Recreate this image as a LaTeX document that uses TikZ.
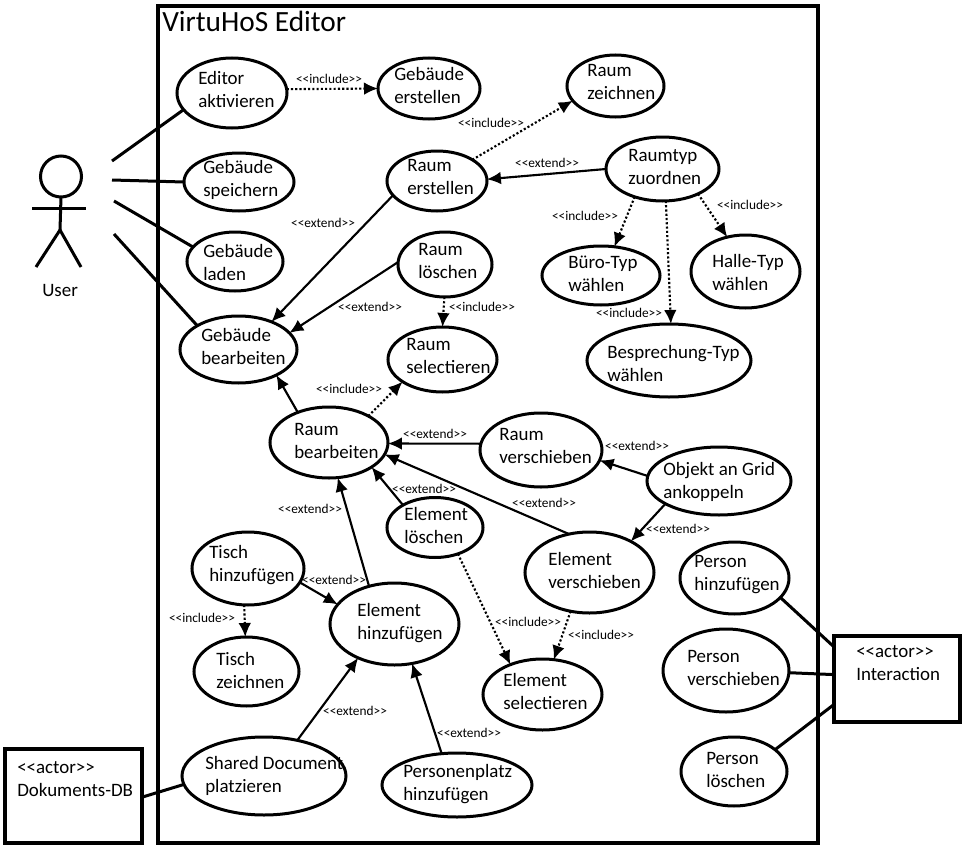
\documentclass[tikz,border=0pt]{standalone}
\usepackage{fontspec}
\newfontfamily\carl{Carlito}
\usetikzlibrary{shapes.geometric,arrows.meta}
\tikzset{
  ucase/.style={draw,ellipse,line width=2.25pt,inner sep=0pt,outer sep=0pt},
  uctext/.style={anchor=west,align=left,inner sep=0pt,yshift=0.75pt,font=\carl\fontsize{14.2pt}{17.25pt}\selectfont},
  steplabel/.style={inner sep=0pt,font=\carl\fontsize{10pt}{12pt}\selectfont},
  assoc/.style={line width=2.25pt},
  ext/.style={line width=1.6pt,-{Latex[length=10.5pt,width=9.5pt]}},
  inc/.style={line width=1.6pt,dash pattern=on 1.6pt off 1.6pt,-{Latex[length=10.5pt,width=9.5pt]}},
  actorbox/.style={draw,line width=2.6pt,inner sep=0pt,outer sep=0pt},
}
\newcommand{\uc}[8]{%
  \node[ucase,minimum width=#4*0.75pt,minimum height=#5*0.75pt] (#1) at (#2,#3) {};
  \node[uctext] (#1t) at (#6,#7) {#8};
}
\newcommand{\lb}[4]{\node[steplabel] (#1) at (#2,#3) {#4};}
\begin{document}
\begin{tikzpicture}[x=0.75pt,y=-0.75pt]
\useasboundingbox (0,0) rectangle (972,853);
% frame
\node[actorbox,minimum width=660*0.75pt,minimum height=837*0.75pt] (frame) at (488,424.5) {};
\node[uctext,font=\carl\fontsize{22pt}{26pt}\selectfont] (title) at (162,22) {VirtuHoS Editor};
% use cases
\uc{ea}{232}{93}{110}{70}{198}{90.5}{Editor\\aktivieren}
\uc{ge}{429}{88.5}{102}{61}{394}{86.5}{Gebäude\\erstellen}
\uc{rz}{615.5}{86}{97}{62}{587}{82.5}{Raum\\zeichnen}
\uc{gs}{239}{182}{110}{58}{203}{180.5}{Gebäude\\speichern}
\uc{gl}{235}{261.5}{96}{59}{203}{263}{Gebäude\\laden}
\uc{re}{437}{181}{100}{60}{407}{177.5}{Raum\\erstellen}
\uc{rt}{662.5}{169}{113}{64}{628}{167.5}{Raumtyp\\zuordnen}
\uc{rl}{445}{264.5}{94}{65}{418}{261.5}{Raum\\löschen}
\uc{bt}{601}{275.5}{118}{59}{568}{274.5}{Büro-Typ\\wählen}
\uc{ht}{745.5}{271.5}{109}{73}{712}{273.5}{Halle-Typ\\wählen}
\uc{gb}{238.5}{349.5}{117}{67}{201}{347.5}{Gebäude\\bearbeiten}
\uc{rs}{442.5}{359.5}{109}{65}{406}{356.5}{Raum\\selectieren}
\uc{bs}{669}{360.5}{164}{73}{607}{364}{Besprechung-Typ\\wählen}
\uc{rb}{329}{442.5}{118}{71}{294}{441.5}{Raum\\bearbeiten}
\uc{rv}{541}{450}{122}{74}{499}{446.5}{Raum\\verschieben}
\uc{og}{719}{481}{144}{68}{663}{482.5}{Objekt an Grid\\ankoppeln}
\uc{el}{435}{527.5}{96}{60}{404}{526.5}{Element\\löschen}
\uc{ev}{589.5}{572.5}{129}{81}{548}{571.5}{Element\\verschieben}
\uc{ph}{734.5}{578}{109}{72}{694}{575.5}{Person\\hinzufügen}
\uc{th}{248}{568.5}{112}{73}{209}{566.5}{Tisch\\hinzufügen}
\uc{eh}{394.5}{624}{129}{82}{357}{624.5}{Element\\hinzufügen}
\uc{tz}{246.5}{671.5}{105}{69}{216}{671.5}{Tisch\\zeichnen}
\uc{pv}{726}{670.5}{126}{83}{687}{669}{Person\\verschieben}
\uc{es}{542.5}{694.5}{119}{71}{503}{692.5}{Element\\selectieren}
\uc{pl}{734}{771.5}{106}{69}{706}{770.5}{Person\\löschen}
\uc{sd}{264}{776}{164}{78}{205}{776.5}{Shared Document\\platzieren}
\uc{pp}{457}{785}{150}{64}{403}{785.5}{Personenplatz\\hinzufügen}
% actor boxes
\node[actorbox,minimum width=126*0.75pt,minimum height=86*0.75pt] (int) at (897,679) {};
\node[uctext] (intt) at (856,664.5) {<<actor>>\\Interaction};
\node[actorbox,minimum width=137*0.75pt,minimum height=94*0.75pt] (db) at (73.5,796) {};
\node[uctext] (dbt) at (17,780.5) {<<actor>>\\Dokuments-DB};
% stick figure
\node[draw,circle,line width=2.25pt,minimum size=41*0.75pt,inner sep=0pt,outer sep=0pt] (head) at (61,176.5) {};
\coordinate (hip) at (60,230);
\coordinate (arml) at (32,208);
\coordinate (armr) at (86,208);
\coordinate (legl) at (36,267);
\coordinate (legr) at (81,267);
\draw[assoc] (head.south) -- (hip);
\draw[assoc] (arml) -- (armr);
\draw[assoc] (legl) -- (hip) -- (legr);
\node[uctext] (usr) at (42,291) {User};
\coordinate (u1) at (112,161);
\coordinate (u2) at (112,180);
\coordinate (u3) at (114,201);
\coordinate (u4) at (114,234);
\draw[assoc] (u1) -- (ea.199);
\draw[assoc] (u2) -- (gs.180);
\draw[assoc] (u3) -- (gl.161);
\draw[assoc] (u4) -- (gb.150);
\draw[assoc] (db.-1) -- (sd.186);
\draw[assoc] (ph.-23) -- (int.153);
\draw[assoc] (pv.-2) -- (int.176);
\draw[assoc] (pl.28.7) -- (int.202);
% dotted
\draw[inc] (ea.4) -- (ge.180);
\draw[inc] (re.31) -- (rz.199);
\draw[inc] (rt.225.5) -- (bt.65.6);
\draw[inc] (rt.276) -- (bs.87);
\draw[inc] (rt.-35) -- (ht.118);
\draw[inc] (rl.269) -- (rs.90);
\draw[inc] (rb.34) -- (rs.209);
\draw[inc] (th.264) -- (tz.92);
\draw[inc] (el.-49) -- (es.137);
\draw[inc] (ev.244) -- (es.72.5);
% solid
\draw[ext] (rt.180) -- (re.2.3);
\draw[ext] (re.198) -- (gb.40.5);
\draw[ext] (rl.177) -- (gb.18);
\draw[ext] (rb.136) -- (gb.-34.5);
\draw[ext] (rv.174) -- (rb.-1.4);
\draw[ext] (og.176) -- (rv.-10);
\draw[ext] (og.203) -- (ev.37.4);
\draw[ext] (ev.118.5) -- (rb.-12.6);
\draw[ext] (el.145) -- (rb.-30.7);
\draw[ext] (eh.124.6) -- (rb.-76);
\draw[ext] (th.-15) -- (eh.161);
\draw[ext] (sd.47) -- (eh.223);
\draw[ext] (pp.116) -- (eh.-66);
% labels
\lb{l1}{329}{79}{<<include>>}
\lb{l2}{491}{123}{<<include>>}
\lb{l3}{547}{163}{<<extend>>}
\lb{l4}{585}{216}{<<include>>}
\lb{l5}{750}{205}{<<include>>}
\lb{l6}{323}{223}{<<extend>>}
\lb{l7}{370}{307}{<<extend>>}
\lb{l8}{482}{307}{<<include>>}
\lb{l9}{629}{313}{<<include>>}
\lb{l10}{349}{389}{<<include>>}
\lb{l11}{435}{434}{<<extend>>}
\lb{l12}{637}{446}{<<extend>>}
\lb{l13}{544}{503}{<<extend>>}
\lb{l14}{424}{489}{<<extend>>}
\lb{l15}{678}{529}{<<extend>>}
\lb{l16}{310}{509}{<<extend>>}
\lb{l17}{334}{580}{<<extend>>}
\lb{l18}{528}{622}{<<include>>}
\lb{l19}{601}{635}{<<include>>}
\lb{l20}{202}{618}{<<include>>}
\lb{l21}{355}{711}{<<extend>>}
\lb{l22}{469}{733}{<<extend>>}
\end{tikzpicture}
\end{document}
